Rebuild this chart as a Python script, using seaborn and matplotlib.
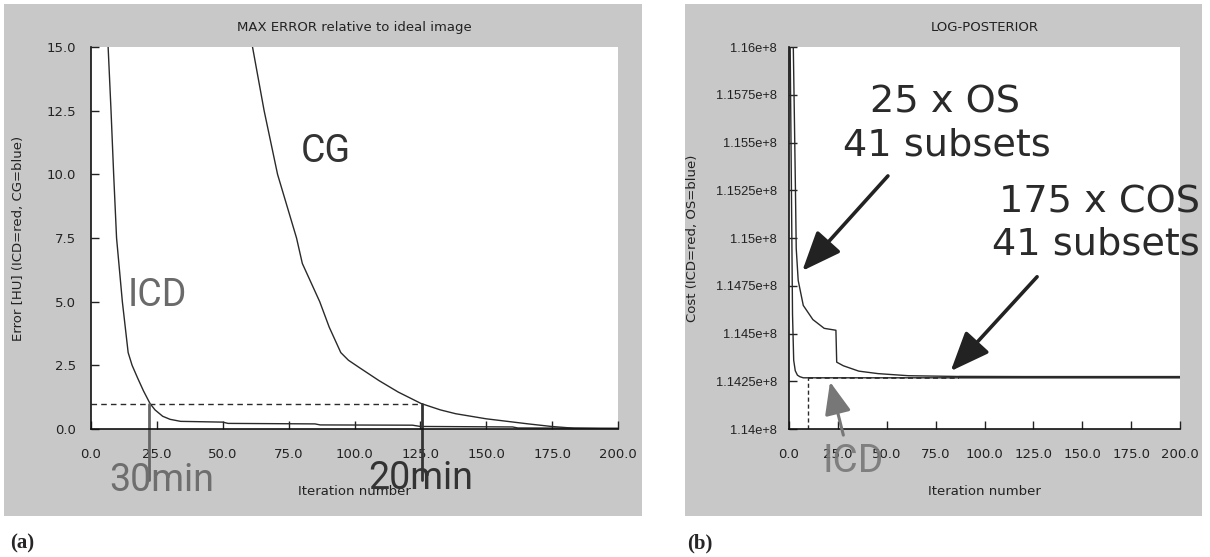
import matplotlib
matplotlib.use("Agg")
import matplotlib.pyplot as plt
from matplotlib.patches import Rectangle
from matplotlib.ticker import FuncFormatter, MultipleLocator
import pandas as pd
import seaborn as sns

sns.set_theme(style="ticks")
plt.rcParams['font.family'] = ['DejaVu Sans']

# (a) max error vs iteration
icd_iter = [6.5, 7.6, 8.6, 9.7, 11.9, 14.1, 15.6, 17.7, 19.9, 22.4, 24.3, 27.2, 30.0, 34.0,
            50.0, 52.0, 85.0, 87.0, 122.0, 125.0, 160.0, 162.0, 200.0]
icd_err = [15.0, 12.5, 10.0, 7.5, 5.0, 3.0, 2.5, 2.0, 1.5, 1.0, 0.75, 0.5, 0.38, 0.3,
           0.27, 0.22, 0.2, 0.16, 0.15, 0.1, 0.08, 0.04, 0.03]
cg_iter = [55.0, 61.3, 65.7, 70.8, 78.0, 80.2, 86.8, 90.4, 94.8, 97.7, 102.0, 109.3, 116.6,
           125.3, 132.6, 138.4, 150.0, 166.0, 174.7, 183.4, 200.0]
cg_err = [19.0, 15.0, 12.5, 10.0, 7.5, 6.5, 5.0, 4.0, 3.0, 2.7, 2.4, 1.9, 1.45,
          1.0, 0.75, 0.6, 0.4, 0.2, 0.1, 0.03, 0.0]
err_target = 1.0
icd_hit, cg_hit = 22.1, 125.5

# (b) log-posterior vs iteration (units of 1e8)
icd_cost_iter = [0.6, 1.2, 1.8, 2.4, 3.2, 4.3, 5.5, 7.3, 9.0, 50.0, 100.0, 200.0]
icd_cost = [1.1600, 1.1530, 1.1460, 1.1436, 1.14305, 1.14282, 1.14274, 1.14268, 1.14268,
            1.14268, 1.14268, 1.14268]
os_iter = [2.2, 2.8, 3.3, 3.7, 4.7, 7.3, 12.2, 18.0, 24.0, 24.4, 27.8, 35.7, 45.5, 61.0,
           86.7, 120.0, 200.0]
os_cost = [1.1600, 1.1560, 1.1525, 1.14945, 1.14778, 1.14647, 1.14573, 1.14527, 1.14517,
           1.14350, 1.14331, 1.14303, 1.14290, 1.14279, 1.14275, 1.14274, 1.14274]
icd_plateau_iter = 9.8
os_join_iter = 87.0

fig = plt.figure(figsize=(12.1, 5.57), dpi=100)
fig.patch.set_facecolor('white')
for x0, w in [(4, 638), (685, 517)]:
    fig.patches.append(Rectangle((x0 / 1210, 1 - 516 / 557), w / 1210, 512 / 557,
                                 transform=fig.transFigure, facecolor='#c8c8c8',
                                 edgecolor='none', zorder=-5))

ax1 = fig.add_axes([91 / 1210, 1 - 429 / 557, 527 / 1210, 382 / 557])
ax2 = fig.add_axes([789 / 1210, 1 - 429 / 557, 391 / 1210, 382 / 557])

line_col = '#2a2a2a'
big = dict(family=['Roboto', 'DejaVu Sans'], fontsize=27)

df_icd = pd.DataFrame({'it': icd_iter, 'v': icd_err})
df_cg = pd.DataFrame({'it': cg_iter, 'v': cg_err})
sns.lineplot(data=df_icd, x='it', y='v', ax=ax1, color=line_col, lw=1.0, sort=False, estimator=None)
sns.lineplot(data=df_cg, x='it', y='v', ax=ax1, color=line_col, lw=1.0, sort=False, estimator=None)
ax1.plot([0, cg_hit], [err_target, err_target], color=line_col, lw=1.0, ls=(0, (4, 3)))
ax1.plot([icd_hit, icd_hit], [err_target, -2.0], color='#666666', lw=2.0, clip_on=False)
ax1.plot([cg_hit, cg_hit], [err_target, -2.0], color='#333333', lw=2.0, clip_on=False)
ax1.set_xlim(0, 200)
ax1.set_ylim(0, 15)
ax1.text(25, 5.24, 'ICD', color='#6a6a6a', ha='center', va='center', **big)
ax1.text(89, 10.9, 'CG', color='#333333', ha='center', va='center', **big)
ax1.text(26.8, -2.42, '30min', color='#6e6e6e', ha='center', va='baseline', zorder=5, **big)
ax1.text(125.2, -2.36, '20min', color='#333333', ha='center', va='baseline', zorder=5, **big)
ax1.set_ylabel('Error [HU] (ICD=red, CG=blue)', fontsize=9.5, color='#222222')
ax1.yaxis.set_label_coords(-0.125, 0.5)
ax1.text(0.5, 1.052, 'MAX ERROR relative to ideal image', transform=ax1.transAxes,
         ha='center', va='center', fontsize=9.5, color='#222222')

df_icd2 = pd.DataFrame({'it': icd_cost_iter, 'v': [c * 1e8 for c in icd_cost]})
df_os = pd.DataFrame({'it': os_iter, 'v': [c * 1e8 for c in os_cost]})
sns.lineplot(data=df_icd2, x='it', y='v', ax=ax2, color=line_col, lw=1.0, sort=False, estimator=None)
sns.lineplot(data=df_os, x='it', y='v', ax=ax2, color=line_col, lw=1.0, sort=False, estimator=None)
plateau = icd_cost[-1] * 1e8
ax2.plot([os_join_iter, 200], [plateau + 3000, plateau + 3000], color=line_col, lw=1.6)
ax2.plot([icd_plateau_iter, os_join_iter], [plateau, plateau], color=line_col, lw=1.2,
         ls=(0, (3, 2)))
ax2.plot([icd_plateau_iter, icd_plateau_iter], [1.14e8, plateau], color=line_col, lw=1.0,
         ls=(0, (3, 2)))
ax2.set_xlim(0, 200)
ax2.set_ylim(1.14e8, 1.16e8)
ax2.yaxis.set_major_locator(MultipleLocator(0.0025e8))
ax2.yaxis.set_major_formatter(FuncFormatter(lambda v, p: f"{round(v / 1e8, 6):g}e+8"))

ann = dict(family=['DejaVu Sans'], fontsize=27.5, color='#2a2a2a',
           ha='center', va='center')
ax2.text(79.8, 1.15708e8, '25 x OS', **ann)
ax2.text(80.6, 1.15485e8, '41 subsets', **ann)
ax2.text(158.8, 1.15187e8, '175 x COS', **ann)
ax2.text(156.9, 1.14964e8, '41 subsets', **ann)
arrow_k = dict(arrowstyle='-|>,head_length=1.1,head_width=0.45', color='#222222', lw=2.6,
               mutation_scale=22, shrinkA=0, shrinkB=0)
ax2.annotate('', xy=(6.8, 1.14828e8), xytext=(50.6, 1.15325e8), arrowprops=arrow_k)
ax2.annotate('', xy=(82.7, 1.14303e8), xytext=(126.9, 1.14797e8), arrowprops=arrow_k)
arrow_g = dict(arrowstyle='-|>,head_length=1.1,head_width=0.45', color='#777777', lw=2.2,
               mutation_scale=18, shrinkA=0, shrinkB=0)
ax2.annotate('', xy=(21.0, 1.14247e8), xytext=(27.8, 1.13968e8), arrowprops=arrow_g,
             annotation_clip=False)
ax2.text(33.0, 1.13829e8, 'ICD', color='#777777', ha='center', va='center', zorder=5,
         family=['Roboto', 'DejaVu Sans'], fontsize=28, alpha=0.9)
ax2.set_ylabel('Cost (ICD=red, OS=blue)', fontsize=9.5, color='#222222')
ax2.yaxis.set_label_coords(-0.23, 0.5)
ax2.text(0.5, 1.052, 'LOG-POSTERIOR', transform=ax2.transAxes,
         ha='center', va='center', fontsize=9.5, color='#222222')

for ax, ypad in [(ax1, 10.5), (ax2, 8.5)]:
    ax.set_facecolor('white')
    ax.xaxis.set_major_locator(MultipleLocator(25))
    ax.xaxis.set_major_formatter(FuncFormatter(lambda v, p: f"{v:.1f}"))
    if ax is ax1:
        ax.yaxis.set_major_locator(MultipleLocator(2.5))
        ax.yaxis.set_major_formatter(FuncFormatter(lambda v, p: f"{v:.1f}"))
    ax.tick_params(axis='both', direction='in', length=6, width=1.0, colors='#222222',
                   labelsize=9.5)
    ax.tick_params(axis='x', pad=14)
    ax.tick_params(axis='y', pad=ypad)
    ax.set_xlabel('Iteration number', fontsize=9.5, color='#222222')
    ax.xaxis.set_label_coords(0.5, -0.147)
    for side in ['top', 'right']:
        ax.spines[side].set_visible(False)
    for side in ['left', 'bottom']:
        ax.spines[side].set_linewidth(1.2)
        ax.spines[side].set_color('#111111')

for lab in ax2.get_yticklabels():
    lab.set_fontfamily('Liberation Sans')
    lab.set_fontsize(9.3)

fig.text(10 / 1210, 1 - 543 / 557, '(a)', family='Liberation Serif', fontweight='bold',
         fontsize=15, va='center', ha='left')
fig.text(687 / 1210, 1 - 543 / 557, '(b)', family='Liberation Serif', fontweight='bold',
         fontsize=15, va='center', ha='left')

fig.savefig('out.png', dpi=100)
